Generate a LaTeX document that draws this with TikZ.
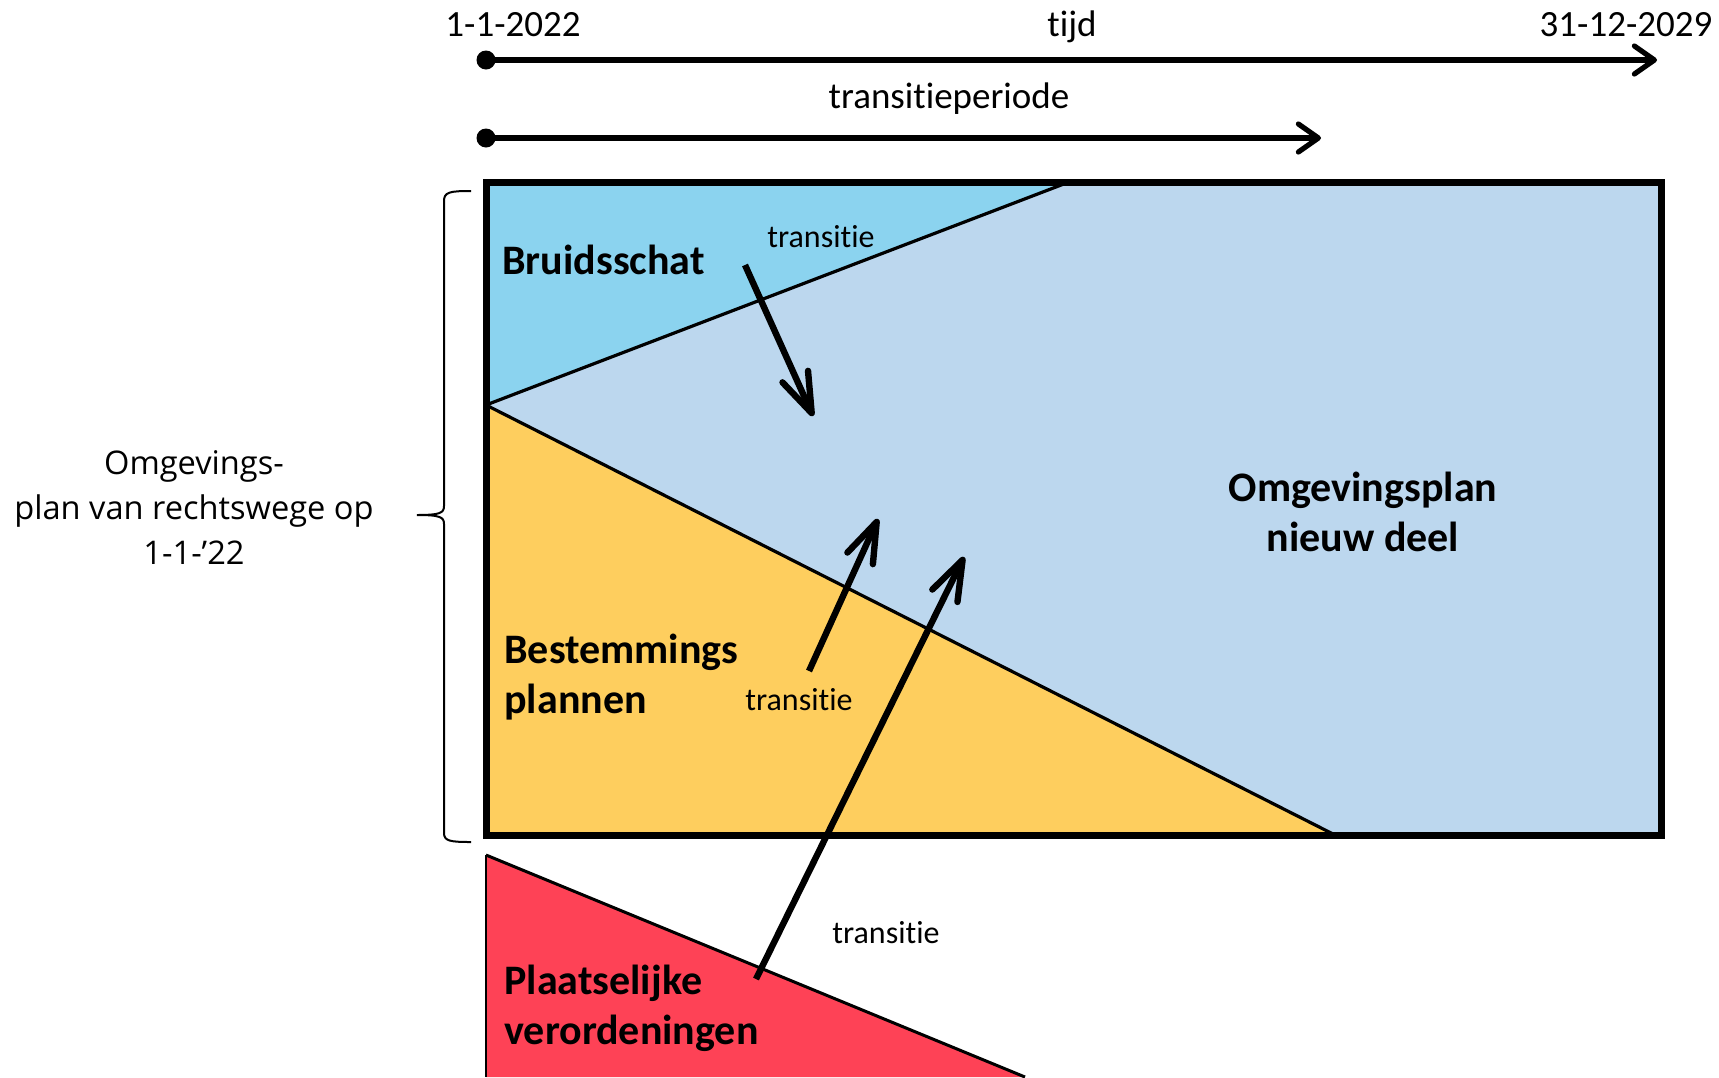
\documentclass[tikz,border=0pt]{standalone}
\usepackage{fontspec}
\setmainfont{Carlito}[Ligatures=NoCommon]
\newfontfamily\leftfont{Open Sans}
\usetikzlibrary{arrows.meta}
\definecolor{bruidc}{HTML}{8BD3EF}
\definecolor{nieuwc}{HTML}{BCD7EE}
\definecolor{bestc}{HTML}{FECE5E}
\definecolor{plaatsc}{HTML}{FE4256}
\tikzset{
  timeline/.style={line width=2.6pt, -{Straight Barb[length=10pt,width=14pt,line cap=round,line join=round]}},
  transarrow/.style={line width=3.2pt, -{Straight Barb[length=20pt,width=14pt,line cap=round,line join=round]}},
  datelabel/.style={font=\fontsize{18.5}{22}\selectfont, inner sep=0pt},
  smalllabel/.style={font=\fontsize{16}{19}\selectfont, inner sep=0pt},
  biglabel/.style={font=\bfseries\fontsize{21}{25}\selectfont, inner sep=0pt, align=left, anchor=west},
  divline/.style={line width=1.6pt},
}
\begin{document}
\begin{tikzpicture}[x=0.5pt,y=-0.5pt]
\useasboundingbox (0,0) rectangle (1719,1077);
\fill[white] (0,0) rectangle (1719,1077);

% regions
\fill[nieuwc] (486,182) rectangle (1661,835);
\fill[bruidc] (486,182) -- (1069,182) -- (486,405) -- cycle;
\fill[bestc] (486,405) -- (1335,835) -- (486,835) -- cycle;
\draw[divline] (486,405) -- (1069,182);
\draw[divline] (486,405) -- (1335,835);
\draw[line width=3.5pt] (486,182) rectangle (1661,835);

% red triangle
\fill[plaatsc] (486,855) -- (1025,1077) -- (486,1077) -- cycle;
\draw[line width=1pt] (486,1077) -- (486,855);
\draw[line width=1.5pt] (486,855) -- (1025,1077);

% timelines
\coordinate (t1s) at (486,60);
\coordinate (t1e) at (1657,60);
\coordinate (t2s) at (486,138);
\coordinate (t2e) at (1321,138);
\draw[timeline] (t1s) -- (t1e);
\draw[timeline] (t2s) -- (t2e);
\fill (t1s) circle (9.5);
\fill (t2s) circle (9.5);
\node[datelabel] (d1) at (513,25) {1-1-2022};
\node[datelabel] (tijd) at (1072,27) {tijd};
\node[datelabel] (d2) at (1626,25) {31-12-2029};
\node[datelabel] (tp) at (949,99) {transitieperiode};

% labels
\node[biglabel] (bruid) at (502,260) {Bruidsschat};
\node[biglabel] (best) at (504,677) {Bestemmings\\plannen};
\node[biglabel] (plaats) at (504,1008) {Plaatselijke\\verordeningen};
\node[font=\bfseries\fontsize{21}{25}\selectfont, inner sep=0pt, align=center] (nieuw) at (1363,512) {Omgevingsplan\\nieuw deel};

\node[smalllabel] (tr1) at (821,237) {transitie};
\node[smalllabel] (tr2) at (799,700) {transitie};
\node[smalllabel] (tr3) at (886,933) {transitie};

% transition arrows
\coordinate (a1s) at (745,265);
\coordinate (a1e) at (813,416);
\coordinate (a2s) at (809,671);
\coordinate (a2e) at (878,519);
\coordinate (a3s) at (756,979);
\coordinate (a3e) at (964,557);
\draw[transarrow] (a1s) -- (a1e);
\draw[transarrow] (a2s) -- (a2e);
\draw[transarrow] (a3s) -- (a3e);

% brace
\draw[line width=1pt] (471,191) .. controls (450,191) and (444,192) .. (444,201) -- (444,506) .. controls (444,513) and (440,515) .. (417,515)
  .. controls (440,515) and (444,517) .. (444,524) -- (444,833) .. controls (444,841) and (450,842) .. (471,842);
\node[font=\leftfont\fontsize{16.3}{22.5}\selectfont, align=center, inner sep=0pt] (omg) at (194,508) {Omgevings-\\plan van rechtswege op\\1-1-’22};
\end{tikzpicture}
\end{document}
